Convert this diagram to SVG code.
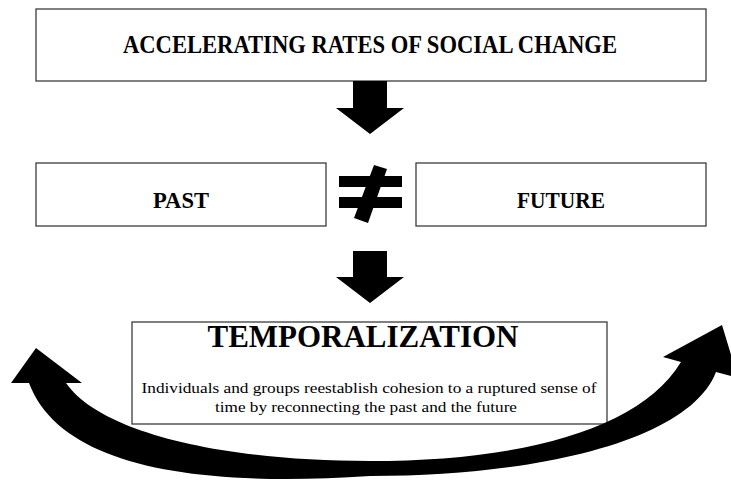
<svg xmlns="http://www.w3.org/2000/svg" width="731" height="488" viewBox="0 0 731 488">
<style>
.box{fill:#fff;stroke:#3c3c3c;stroke-width:1.3}
.t{font-family:"Liberation Serif","Times New Roman","DejaVu Serif",serif;fill:#000;text-anchor:middle}
.b{font-weight:bold}
.ink{fill:#000;stroke:none}
</style>
<rect width="731" height="488" fill="#fff"/>
<g id="node-change">
<rect class="box" x="36" y="9" width="670" height="72"/>
<text class="t b" x="370" y="53" font-size="24.5" textLength="494" lengthAdjust="spacingAndGlyphs">ACCELERATING RATES OF SOCIAL CHANGE</text>
</g>
<g id="node-past">
<rect class="box" x="36" y="163" width="290" height="63"/>
<text class="t b" x="181" y="207.5" font-size="23" textLength="56" lengthAdjust="spacingAndGlyphs">PAST</text>
</g>
<g id="node-future">
<rect class="box" x="416" y="163" width="290" height="63"/>
<text class="t b" x="561" y="207.5" font-size="23" textLength="88" lengthAdjust="spacingAndGlyphs">FUTURE</text>
</g>
<g id="node-neq">
<rect class="ink" x="339" y="176" width="63" height="11"/>
<rect class="ink" x="339" y="197" width="63" height="11"/>
<polygon class="ink" points="374,165 387,169 368,223 354,218"/>
</g>
<g id="node-temporalization">
<rect class="box" x="132" y="322" width="475" height="102"/>
<text class="t b" x="363" y="347" font-size="31" textLength="311" lengthAdjust="spacingAndGlyphs">TEMPORALIZATION</text>
<text class="t" x="369" y="393" font-size="15.5" textLength="455" lengthAdjust="spacingAndGlyphs">Individuals and groups reestablish cohesion to a ruptured sense of</text>
<text class="t" x="366" y="412" font-size="15.5" textLength="302" lengthAdjust="spacingAndGlyphs">time  by reconnecting the past and the future</text>
</g>
<g id="connectors">
<path class="ink" d="M353,81 L387,81 L387,108 L404,108 L370,134 L336,108 L353,108 Z"/>
<path class="ink" d="M353,251 L387,251 L387,277 L404,277 L370,303 L336,277 L353,277 Z"/>
<path class="ink" d="M36,348 L82,383 L66,383 C100,432 220,461 370,461 L370,476 C190,488 60,465 29,383 L11,383 Z"/>
<path class="ink" d="M722,325 L738,378 L716,372 C690,440 540,476 370,476 L370,461 C520,461 640,430 681,362 L663,357 Z"/>
</g>
</svg>
